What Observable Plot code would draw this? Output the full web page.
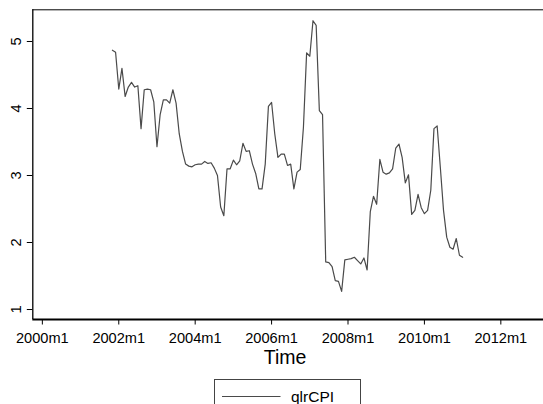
<!DOCTYPE html>
<html>
<head>
<meta charset="utf-8">
<script src="https://cdn.jsdelivr.net/npm/d3@7"></script>
<script src="https://cdn.jsdelivr.net/npm/@observablehq/plot@0.6"></script>
<style>
  html, body { margin: 0; padding: 0; background: #fff; }
  #wrap { position: relative; width: 543px; height: 404px; overflow: hidden; font-family: "Liberation Sans", Arial, sans-serif; }
  #chart svg { display: block; }
  #legend {
    position: absolute; left: 214px; top: 379px; width: 147px; height: 40px;
    border: 1px solid #444; box-sizing: border-box; background: #fff;
  }
  #legend svg { position: absolute; left: 0; top: 0; }
</style>
</head>
<body>
<div id="wrap">
  <div id="chart"></div>
  <div id="legend"></div>
</div>
<script>
// Monthly series, first observation 2001m11
const startMonth = "2001m11";
const qlrCPI = [
  4.87, 4.84, 4.29, 4.60, 4.18, 4.32, 4.39, 4.32, 4.34, 3.70, 4.28, 4.29,
  4.28, 4.10, 3.43, 3.91, 4.13, 4.13, 4.08, 4.28, 4.08, 3.62, 3.36, 3.17,
  3.14, 3.13, 3.16, 3.17, 3.17, 3.21, 3.18, 3.19, 3.11, 3.00, 2.53, 2.40,
  3.10, 3.10, 3.23, 3.16, 3.22, 3.48, 3.36, 3.37, 3.17, 3.03, 2.80,
  2.80, 3.17, 4.03, 4.09, 3.62, 3.27, 3.32, 3.32, 3.15, 3.17,
  2.80, 3.05, 3.09, 3.72, 4.83, 4.78, 5.31, 5.24, 3.97, 3.91,
  1.71, 1.70, 1.64, 1.43, 1.42, 1.27, 1.74, 1.75, 1.76, 1.78,
  1.73, 1.68, 1.77, 1.59, 2.46, 2.69, 2.57, 3.24, 3.05, 3.02,
  3.04, 3.10, 3.41, 3.47, 3.27, 2.89, 3.01,
  2.42, 2.48, 2.72, 2.52, 2.43, 2.48, 2.78, 3.70, 3.74, 3.12, 2.48, 2.08,
  1.93, 1.90, 2.06, 1.81, 1.78
];

// Axis ticks (months counted from 2000m1) and value ticks
const xTickLabels = ["2000m1", "2002m1", "2004m1", "2006m1", "2008m1", "2010m1", "2012m1"];
const yTicks = [1, 2, 3, 4, 5];
const xDomain = [-3.0, 157.4];
const yDomain = [0.851, 5.473];

// Stata-style %tm parsing: "YYYYmM" -> months since 2000m1
const toMonth = s => { const [y, m] = s.split("m").map(Number); return (y - 2000) * 12 + (m - 1); };
const fromMonth = k => `${2000 + Math.floor(k / 12)}m${(k % 12) + 1}`;

const m0 = toMonth(startMonth);
const data = qlrCPI.map((v, i) => ({month: m0 + i, value: v}));
const xTicks = xTickLabels.map(toMonth);

const font = "Liberation Sans, Arial, sans-serif";

const chart = Plot.plot({
  width: 543,
  height: 372,
  marginLeft: 32.3,
  marginRight: 0,
  marginTop: 9.3,
  marginBottom: 53,
  style: {fontFamily: font, background: "#fff", color: "#000"},
  x: {type: "linear", domain: xDomain},
  y: {domain: yDomain},
  marks: [
    // plot region outline: top, left, bottom
    Plot.ruleY([yDomain[1]], {stroke: "#000", strokeWidth: 1}),
    Plot.ruleX([xDomain[0]], {stroke: "#000", strokeWidth: 1.3}),
    Plot.ruleY([yDomain[0]], {stroke: "#000", strokeWidth: 2}),
    Plot.axisY(yTicks, {
      tickSize: 5.5, tickPadding: 6.5, tickRotate: -90, tickFormat: d => String(d),
      fontSize: 14.6, label: null, stroke: "#000", strokeWidth: 1
    }),
    Plot.axisX(xTicks, {
      tickSize: 5.5, tickPadding: 7.2, tickFormat: fromMonth,
      fontSize: 14.6, label: null, stroke: "#000", strokeWidth: 1
    }),
    Plot.line(data, {x: "month", y: "value", stroke: "#4a4a4a", strokeWidth: 1.2}),
    Plot.text(["Time"], {frameAnchor: "bottom", dx: -3, dy: 44, fontSize: 19.5, fill: "#000"})
  ]
});
document.getElementById("chart").appendChild(chart);

// Legend: sample line + series name
const legend = d3.select("#legend").append("svg").attr("width", 147).attr("height", 40);
legend.append("line")
  .attr("x1", 7).attr("x2", 65.5).attr("y1", 16.5).attr("y2", 16.5)
  .attr("stroke", "#4a4a4a").attr("stroke-width", 1.2);
legend.append("text")
  .attr("x", 76).attr("y", 16.5).attr("dy", "0.35em")
  .attr("font-family", font).attr("font-size", 15.5).attr("fill", "#000")
  .text("qlrCPI");
</script>
</body>
</html>
